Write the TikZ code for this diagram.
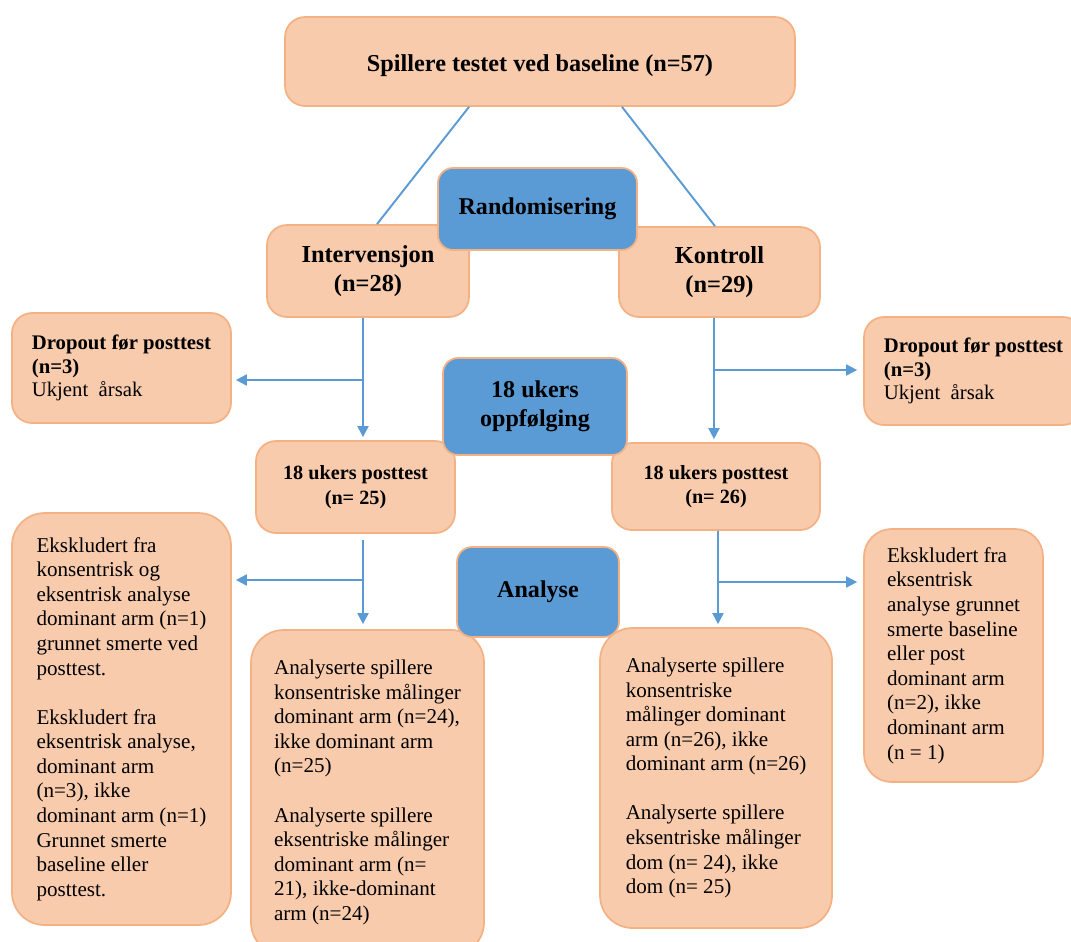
\documentclass[tikz,border=0pt]{standalone}
\usepackage{fontspec}
\setmainfont{Liberation Serif}
\usetikzlibrary{arrows.meta}

\definecolor{peach}{HTML}{F8CBAD}
\definecolor{peachline}{HTML}{F4B183}
\definecolor{steel}{HTML}{5B9BD5}

\begin{document}
\begin{tikzpicture}[x=0.02cm,y=-0.02cm,
  box/.style={draw=peachline,fill=peach,line width=1pt,rounded corners=0.4cm,inner sep=0pt,align=center},
  tallbox/.style={box,rounded corners=0.65cm,align=left,font=\fontsize{12}{14}\selectfont},
  bluebox/.style={box,fill=steel,rounded corners=0.3cm,font=\fontsize{13.7}{16.5}\selectfont\bfseries},
  link/.style={draw=steel,line width=1.1pt},
  arr/.style={link,-{Triangle[length=0.22cm,width=0.22cm]}}]

\useasboundingbox (0,0) rectangle (1071,941);

% peach boxes
\node[box,minimum width=10.2cm,minimum height=1.78cm,text height=0.5cm,font=\fontsize{13.8}{16}\selectfont\bfseries]
  (base) at (540,61.5) {Spillere testet ved baseline (n=57)};
\node[box,minimum width=4.04cm,minimum height=1.84cm,font=\fontsize{13.9}{16.5}\selectfont\bfseries]
  (inter) at (368,271) {Intervensjon\\(n=28)};
\node[box,minimum width=4.02cm,minimum height=1.8cm,font=\fontsize{13.9}{16.5}\selectfont\bfseries]
  (kontr) at (719.5,272) {Kontroll\\(n=29)};
\node[box,minimum width=4.38cm,minimum height=2.2cm,align=left,font=\fontsize{11.8}{13.5}\selectfont]
  (dropL) at (121.5,368) {\textbf{Dropout før posttest}\\\textbf{(n=3)}\\Ukjent\ \ årsak};
\node[box,minimum width=4.38cm,minimum height=2.16cm,align=left,font=\fontsize{11.8}{13.5}\selectfont]
  (dropR) at (973.5,371) {\textbf{Dropout før posttest}\\\textbf{(n=3)}\\Ukjent\ \ årsak};
\node[box,minimum width=3.98cm,minimum height=1.84cm,font=\fontsize{11.5}{14}\selectfont\bfseries]
  (postL) at (355.5,487) {18 ukers posttest\\(n= 25)};
\node[box,minimum width=4.16cm,minimum height=1.74cm,font=\fontsize{11.5}{14}\selectfont\bfseries]
  (postR) at (716,486.5) {18 ukers posttest\\(n= 26)};

\node[tallbox,minimum width=4.38cm,minimum height=8.24cm] (exclL) at (121.5,719)
  {Ekskludert fra\\konsentrisk og\\eksentrisk analyse\\dominant arm (n=1)\\grunnet smerte ved\\posttest.\\[14pt]
   Ekskludert fra\\eksentrisk analyse,\\dominant arm\\(n=3), ikke\\dominant arm (n=1)\\Grunnet smerte\\baseline eller\\posttest.};
\node[tallbox,minimum width=3.58cm,minimum height=5.06cm,rounded corners=0.55cm] (exclR) at (953.5,655.5)
  {Ekskludert fra\\eksentrisk\\analyse grunnet\\smerte baseline\\eller post\\dominant arm\\(n=2), ikke\\dominant arm\\(n = 1)};
\node[tallbox,minimum width=4.66cm,minimum height=6.5cm] (anaL) at (367.5,792.5)
  {Analyserte spillere\\konsentriske målinger\\dominant arm (n=24),\\ikke dominant arm\\(n=25)\\[14pt]
   Analyserte spillere\\eksentriske målinger\\dominant arm (n=\\21), ikke-dominant\\arm (n=24)};
\node[tallbox,minimum width=4.64cm,minimum height=6cm] (anaR) at (716,778)
  {Analyserte spillere\\konsentriske\\målinger dominant\\arm (n=26), ikke\\dominant arm (n=26)\\[14pt]
   Analyserte spillere\\eksentriske målinger\\dom (n= 24), ikke\\dom (n= 25)};

% connectors
\draw[link] ([xshift=-1.42cm]base.south) -- ([xshift=0.18cm]inter.north);
\draw[link] ([xshift=1.64cm]base.south) -- ([xshift=-0.09cm]kontr.north);

\coordinate (splitL) at (363,380);
\coordinate (splitR) at (714,370);
\coordinate (splitLL) at (363,580);
\coordinate (splitRR) at (718,582);

\draw[arr] (inter.south -| splitL) -- ([yshift=0.06cm]postL.north -| splitL);
\draw[arr] (splitL) -- ([xshift=0.08cm]dropL.east |- splitL);
\draw[arr] (kontr.south -| splitR) -- ([yshift=0.06cm]postR.north -| splitR);
\draw[arr] (splitR) -- ([xshift=-0.12cm]dropR.west |- splitR);

\draw[arr] ([yshift=-0.12cm]postL.south -| splitLL) -- ([yshift=0.1cm]anaL.north -| splitLL);
\draw[arr] (splitLL) -- ([xshift=0.08cm]exclL.east |- splitLL);
\draw[arr] (postR.south -| splitRR) -- ([yshift=0.06cm]anaR.north -| splitRR);
\draw[arr] (splitRR) -- ([xshift=-0.12cm]exclR.west |- splitRR);

% blue boxes on top
\node[bluebox,minimum width=3.98cm,minimum height=1.64cm] (rand) at (537.5,209) {Randomisering};
\node[bluebox,minimum width=3.68cm,minimum height=1.94cm] (follow) at (535,406.5) {18 ukers\\oppfølging};
\node[bluebox,minimum width=3.24cm,minimum height=1.8cm] (analyse) at (538,592) {Analyse};

\end{tikzpicture}
\end{document}
